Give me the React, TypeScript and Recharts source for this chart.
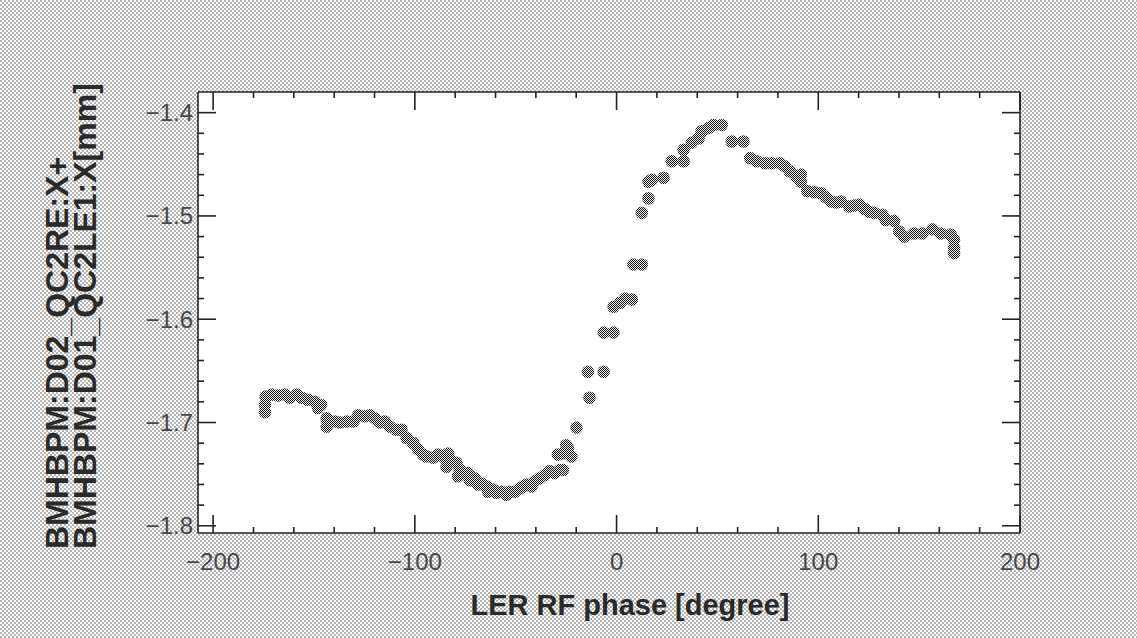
import React from 'react';
import { ScatterChart, Scatter, XAxis, YAxis, CartesianGrid } from 'recharts';

// LER RF phase [degree]
const phase = [
  -174.3, -174.3, -174.0, -170.9, -167.8, -164.4, -161.9, -158.6, -156.1, -153.0,
  -149.5, -148.0, -146.5, -143.7, -143.7, -139.6, -137.1, -133.8, -130.5, -128.1,
  -124.8, -122.3, -119.8, -117.3, -114.9, -112.4, -109.1, -106.6, -104.1, -100.8,
  -98.4, -95.9, -94.2, -90.9, -88.5, -86.0, -84.3, -83.5, -82.7, -79.4,
  -78.6, -77.7, -73.6, -72.8, -70.3, -68.7, -67.0, -64.5, -63.7, -61.2,
  -59.6, -57.1, -54.6, -53.0, -50.5, -48.0, -46.4, -44.7, -42.2, -40.6,
  -38.1, -35.6, -33.2, -30.7, -29.1, -28.2, -26.6, -26.6, -24.9, -24.1,
  -22.4, -19.9, -14.2, -13.4, -6.4, -6.4, -1.5, -1.5, 1.8, 4.3,
  7.6, 8.4, 12.5, 12.5, 15.8, 15.8, 17.5, 23.3, 27.4, 33.2,
  33.2, 37.3, 40.6, 42.2, 45.5, 48.0, 52.1, 57.1, 62.9, 66.2,
  69.5, 73.6, 76.9, 81.0, 83.5, 86.0, 89.3, 91.4, 91.4, 94.6,
  98.0, 101.3, 103.8, 106.3, 108.8, 111.2, 115.3, 117.8, 120.3, 122.8,
  125.2, 127.7, 131.8, 133.5, 137.6, 140.1, 142.6, 147.5, 151.6, 156.6,
  160.7, 165.6, 167.3, 167.3, 167.3,
];

// BMHBPM:D02_QC2RE:X + BMHBPM:D01_QC2LE1:X [mm]
const position = [
  -1.690, -1.683, -1.675, -1.673, -1.674, -1.673, -1.676, -1.673, -1.676, -1.678,
  -1.680, -1.686, -1.683, -1.696, -1.704, -1.699, -1.700, -1.699, -1.699, -1.693,
  -1.694, -1.693, -1.696, -1.700, -1.699, -1.704, -1.707, -1.707, -1.715, -1.720,
  -1.726, -1.731, -1.733, -1.734, -1.731, -1.733, -1.743, -1.730, -1.736, -1.739,
  -1.752, -1.746, -1.749, -1.756, -1.754, -1.760, -1.759, -1.762, -1.767, -1.765,
  -1.768, -1.767, -1.770, -1.767, -1.767, -1.764, -1.762, -1.760, -1.762, -1.757,
  -1.754, -1.751, -1.747, -1.749, -1.731, -1.746, -1.746, -1.730, -1.722, -1.725,
  -1.733, -1.705, -1.651, -1.676, -1.651, -1.613, -1.613, -1.588, -1.584, -1.580,
  -1.581, -1.547, -1.547, -1.497, -1.483, -1.467, -1.465, -1.463, -1.447, -1.447,
  -1.436, -1.429, -1.425, -1.418, -1.415, -1.412, -1.412, -1.428, -1.428, -1.444,
  -1.447, -1.449, -1.449, -1.449, -1.452, -1.457, -1.462, -1.460, -1.467, -1.476,
  -1.477, -1.478, -1.482, -1.486, -1.487, -1.486, -1.491, -1.490, -1.489, -1.493,
  -1.496, -1.497, -1.499, -1.504, -1.505, -1.515, -1.520, -1.517, -1.517, -1.513,
  -1.517, -1.518, -1.523, -1.531, -1.536,
];

const xTicks = [
  -200, -180, -160, -140, -120, -100, -80, -60, -40, -20, 0,
  20, 40, 60, 80, 100, 120, 140, 160, 180, 200,
];
const yTicks = [
  -1.8, -1.78, -1.76, -1.74, -1.72, -1.7, -1.68, -1.66, -1.64, -1.62, -1.6,
  -1.58, -1.56, -1.54, -1.52, -1.5, -1.48, -1.46, -1.44, -1.42, -1.4,
];

const data = phase.map((x, i) => ({ x, y: position[i] }));

const INK = '#222';
const LABEL = '#484848';
const bgPattern =
  "url(\"data:image/svg+xml;utf8,<svg xmlns='http://www.w3.org/2000/svg' width='4' height='4'><rect width='4' height='4' fill='%23f8f8f8'/><rect width='2' height='2' fill='%23b6b6b6'/><rect x='2' y='2' width='2' height='2' fill='%23b6b6b6'/></svg>\")";

const fmt = (v: number) => (v < 0 ? '\u2212' : '') + String(Math.abs(v));

const isMajorX = (v: number) => Math.abs(v % 100) < 1e-6;
const isMajorY = (v: number) => Math.abs(v * 10 - Math.round(v * 10)) < 1e-6;

const makeXTick = (side: 'top' | 'bottom') => (props: any) => {
  const { x, y, payload } = props;
  const v = payload.value as number;
  const major = isMajorX(v);
  const len = major ? 18 : 6;
  const dir = side === 'bottom' ? -1 : 1;
  return (
    <g>
      <line x1={x} x2={x} y1={y} y2={y + dir * len} stroke={INK} strokeWidth={1.6} />
      {side === 'bottom' && major && (
        <text x={x} y={y + 37} textAnchor="middle" fontSize={24} fill={LABEL}
          fontFamily="'Liberation Sans', Arial, sans-serif">
          {fmt(v)}
        </text>
      )}
    </g>
  );
};

const makeYTick = (side: 'left' | 'right') => (props: any) => {
  const { x, y, payload } = props;
  const v = payload.value as number;
  const major = isMajorY(v);
  const len = major ? 18 : 6;
  const dir = side === 'left' ? 1 : -1;
  return (
    <g>
      <line x1={x} x2={x + dir * len} y1={y} y2={y} stroke={INK} strokeWidth={1.6} />
      {side === 'left' && major && (
        <text x={x - 5} y={y + 8.5} textAnchor="end" fontSize={24} fill={LABEL}
          fontFamily="'Liberation Sans', Arial, sans-serif">
          {fmt(Math.round(v * 10) / 10)}
        </text>
      )}
    </g>
  );
};

const Dot = (props: any) => {
  const { cx, cy } = props;
  if (cx == null || cy == null) return null;
  return <circle cx={cx} cy={cy} r={6.3} fill="url(#dither)" />;
};

const xDomain: [number, number] = [-207.5, 200];
const yDomain: [number, number] = [-1.807, -1.38];

const App: React.FC = () => {
  return (
    <div style={{ position: 'absolute', left: 0, top: 0, width: 1137, height: 638, backgroundImage: bgPattern }}>
      <ScatterChart width={1137} height={638} margin={{ top: 72, right: 97, bottom: 45, left: 128 }}>
        <defs>
          <pattern id="dither" width="2" height="2" patternUnits="userSpaceOnUse">
            <rect width="2" height="2" fill="#e6e6e6" />
            <rect width="1" height="1" fill="#1c1c1c" />
            <rect x="1" y="1" width="1" height="1" fill="#1c1c1c" />
          </pattern>
        </defs>
        <CartesianGrid horizontal={false} vertical={false} fill="#fff" />
        <XAxis xAxisId="bottom" dataKey="x" type="number" orientation="bottom" domain={xDomain}
          allowDataOverflow ticks={xTicks} interval={0} height={60} tickSize={0} tickMargin={0}
          tickLine={false} axisLine={{ stroke: INK, strokeWidth: 1.6 }} tick={makeXTick('bottom')} />
        <XAxis xAxisId="top" dataKey="x" type="number" orientation="top" domain={xDomain}
          allowDataOverflow ticks={xTicks} interval={0} height={20} tickSize={0} tickMargin={0}
          tickLine={false} axisLine={{ stroke: INK, strokeWidth: 1.6 }} tick={makeXTick('top')} />
        <YAxis yAxisId="left" dataKey="y" type="number" orientation="left" domain={yDomain}
          allowDataOverflow ticks={yTicks} interval={0} width={70} tickSize={0} tickMargin={0}
          tickLine={false} axisLine={{ stroke: INK, strokeWidth: 1.6 }} tick={makeYTick('left')} />
        <YAxis yAxisId="right" dataKey="y" type="number" orientation="right" domain={yDomain}
          allowDataOverflow ticks={yTicks} interval={0} width={20} tickSize={0} tickMargin={0}
          tickLine={false} axisLine={{ stroke: INK, strokeWidth: 1.6 }} tick={makeYTick('right')} />
        <Scatter data={data} xAxisId="bottom" yAxisId="left" shape={Dot} isAnimationActive={false} />
        <Scatter data={data} xAxisId="top" yAxisId="right" shape={() => <g />} isAnimationActive={false} />
      </ScatterChart>
      <svg width={1137} height={638} style={{ position: 'absolute', left: 0, top: 0, pointerEvents: 'none' }}>
        <g fontFamily="'Liberation Sans', Arial, sans-serif" fontWeight="bold" fill="#2a2a2a">
          <text x={630} y={615} textAnchor="middle" fontSize={29}>LER RF phase [degree]</text>
          <text transform="translate(68,549) rotate(-90)" fontSize={32}>BMHBPM:D02_QC2RE:X+</text>
          <text transform="translate(96,549) rotate(-90)" fontSize={32}>BMHBPM:D01_QC2LE1:X[mm]</text>
        </g>
      </svg>
    </div>
  );
};

export default App;
